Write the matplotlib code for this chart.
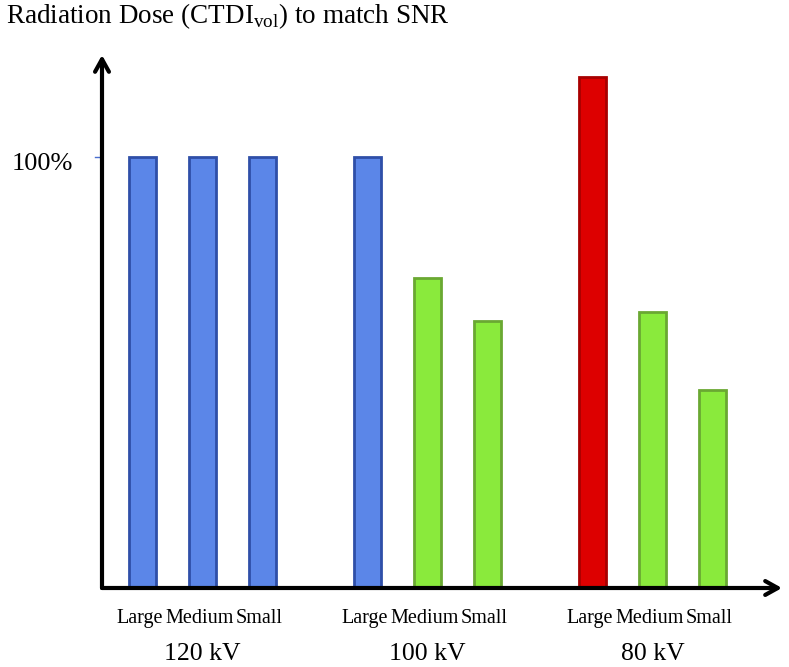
import matplotlib
matplotlib.use("Agg")
import matplotlib.pyplot as plt
from matplotlib.transforms import blended_transform_factory

plt.rcParams["mathtext.fontset"] = "custom"
plt.rcParams["mathtext.rm"] = "Liberation Serif"

# values, % of the 120 kV dose
groups = ["120 kV", "100 kV", "80 kV"]
sizes = ["Large", "Medium", "Small"]
dose_120 = [100, 100, 100]
dose_100 = [100, 72, 62]
dose_80 = [118.5, 64, 46]

BLUE = ("#5b86e8", "#2f4fa8")
GREEN = ("#8aea3c", "#6aa832")
RED = ("#dd0000", "#a80000")
colors_120 = [BLUE, BLUE, BLUE]
colors_100 = [BLUE, GREEN, GREEN]
colors_80 = [RED, GREEN, GREEN]

group_start = [0.0, 3.75, 7.5]

fig = plt.figure(figsize=(7.89, 6.67), dpi=100)
W, H = 789, 667
ax = fig.add_axes([102 / W, (H - 588) / H, (782 - 102) / W, (588 - 55) / H])
ax.set_xlim((102 - 142.5) / 60, (782 - 142.5) / 60)
ax.set_ylim(0, 533 / 431 * 100)
for s in ax.spines.values():
    s.set_visible(False)
ax.set_xticks([])
ax.set_yticks([])

serif = "Liberation Serif"
trans = blended_transform_factory(ax.transData, fig.transFigure)

for g, vals, cols, x0 in zip(groups, [dose_120, dose_100, dose_80],
                             [colors_120, colors_100, colors_80], group_start):
    xs = [x0 + i for i in range(len(vals))]
    for x, v, (fc, ec) in zip(xs, vals, cols):
        ax.bar(x, v, width=0.45, color=fc, edgecolor=ec, linewidth=2, zorder=2)
    for x, s in zip(xs, sizes):
        ax.text(x - 0.05, 1 - 623 / H, s, transform=trans, ha="center", va="baseline",
                fontsize=14.5, family=serif)
    ax.text(xs[1], 1 - 660 / H, g, transform=trans, ha="center", va="baseline",
            fontsize=18.5, family=serif)

# axis arrows
arrow = dict(arrowstyle="->,head_length=0.9,head_width=0.5", lw=3, color="black",
             shrinkA=0, shrinkB=0)
ax.annotate("", xy=(1, 0), xytext=(0, 0), xycoords="axes fraction",
            arrowprops=arrow, zorder=3, annotation_clip=False)
ax.annotate("", xy=(0, 1), xytext=(0, 0), xycoords="axes fraction",
            arrowprops=arrow, zorder=3, annotation_clip=False)

# 100% tick
ax.plot([-0.79, -0.675], [100, 100], color="#4a6fd0", lw=1, clip_on=False)
fig.text(12 / W, 1 - 170 / H, "100%", ha="left", va="baseline", fontsize=19, family=serif)

fig.text(6 / W, 1 - 23 / H, r"Radiation Dose (CTDI$_{\mathrm{vol}}$) to match SNR",
         ha="left", va="baseline", fontsize=19.5, family=serif)

fig.savefig("out.png", dpi=100)
